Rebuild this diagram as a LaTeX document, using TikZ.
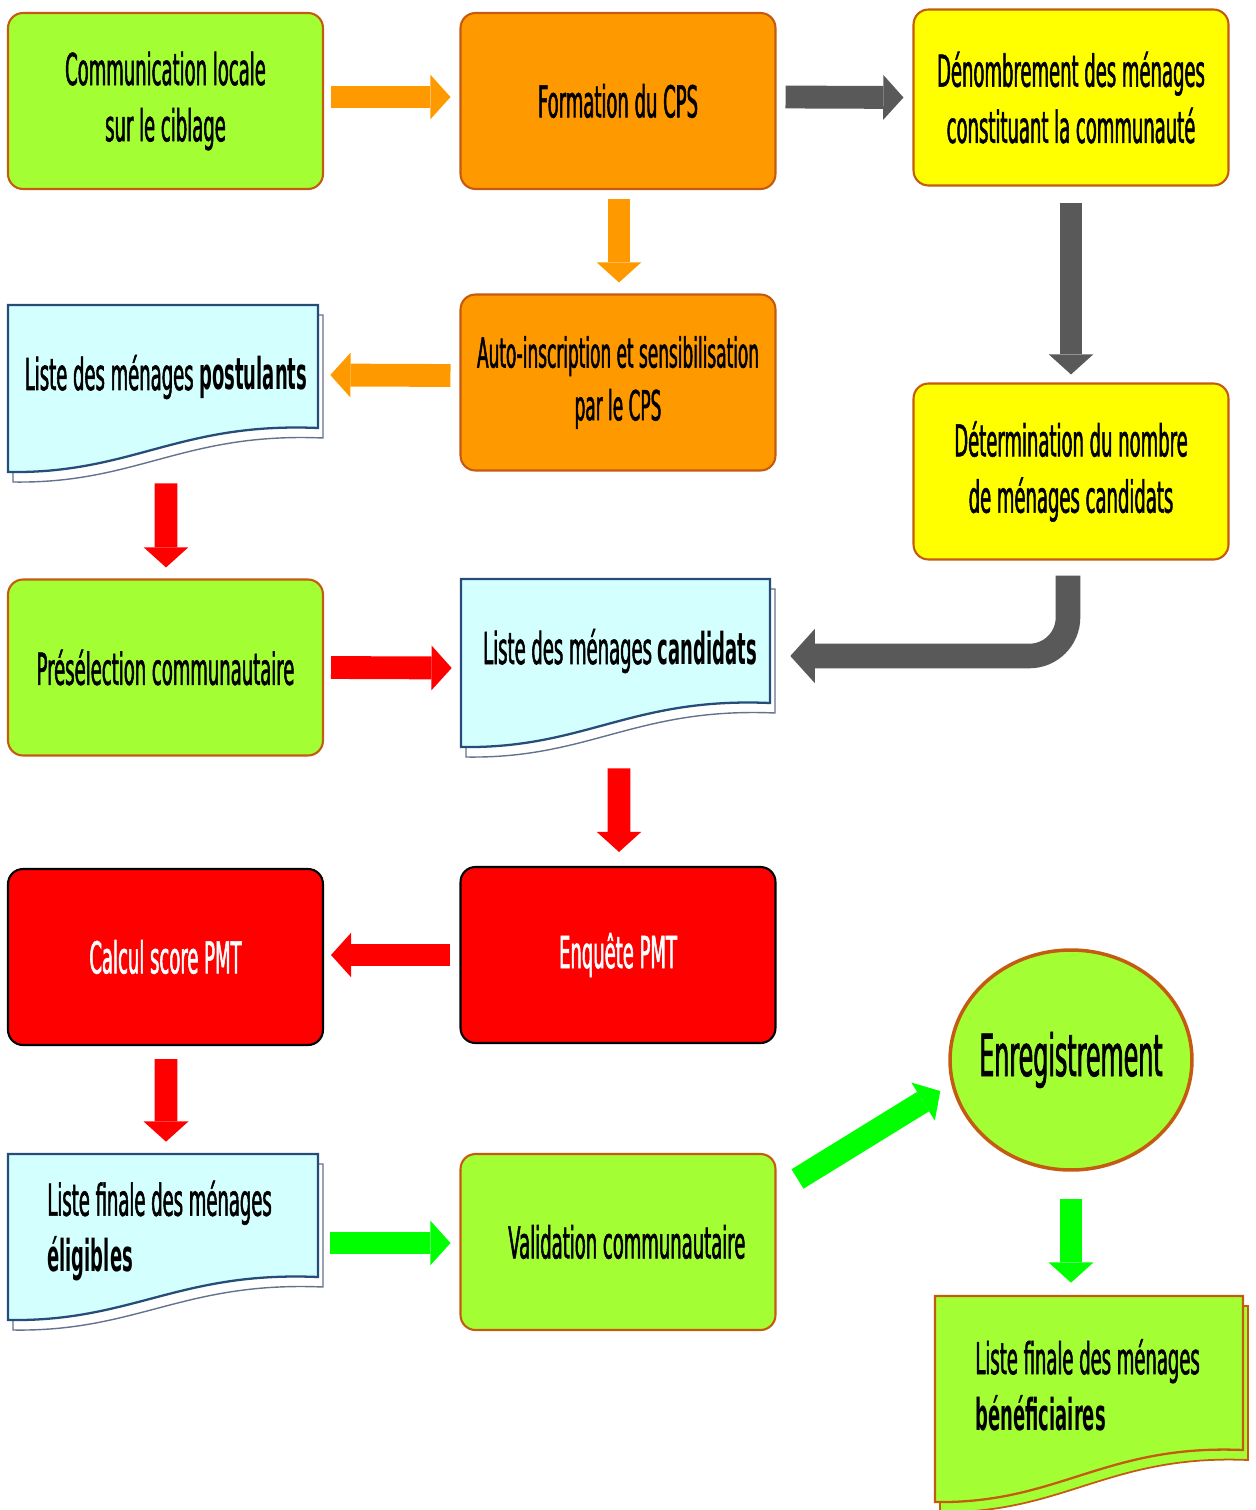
\documentclass[tikz,border=0pt]{standalone}
\usepackage{fontspec}
\setmainfont{DejaVu Sans}[FakeStretch=0.41, UprightFeatures={FakeBold=1.2}]
\usetikzlibrary{arrows.meta,calc,shapes.geometric}

\definecolor{cGreen}{RGB}{163,255,51}
\definecolor{cOrange}{RGB}{255,153,0}
\definecolor{cYellow}{RGB}{255,255,0}
\definecolor{cRed}{RGB}{255,0,0}
\definecolor{cCyan}{RGB}{212,255,255}
\definecolor{cBrown}{RGB}{197,90,17}
\definecolor{cNavy}{RGB}{38,76,120}
\definecolor{cSlate}{RGB}{100,115,140}
\definecolor{cGray}{RGB}{89,89,89}
\definecolor{cLight}{RGB}{0,255,0}

\newcommand\diagfont{\fontsize{25}{32}\selectfont}

% document symbol with a wavy lower edge: x, y, width, height, rise of the wave
\newcommand\docpath[5]{(#1,#2) -- ({#1+#3},#2) -- ({#1+#3},{#2+#4-#5})
  .. controls ({#1+0.55*#3},{#2+#4-#5-6}) and ({#1+0.4*#3},{#2+#4+2}) .. (#1,{#2+#4}) -- cycle}

\tikzset{
  box/.style={rectangle, rounded corners=8.5pt, draw=cBrown, line width=1.2pt,
    minimum width=6.3cm, minimum height=3.52cm, align=center, inner sep=2pt, font=\diagfont},
  greenbox/.style={box, fill=cGreen},
  orangebox/.style={box, fill=cOrange},
  yellowbox/.style={box, fill=cYellow},
  redbox/.style={box, fill=cRed, draw=black, text=white},
  docfront/.style={fill=cCyan, draw=cNavy, line width=1.3pt},
  docback/.style={fill=white, draw=cSlate, line width=0.8pt},
  gdocfront/.style={fill=cGreen, draw=cBrown, line width=1.3pt},
  gdocback/.style={fill=cGreen, draw=cBrown, line width=1pt},
  frame/.style={rectangle, draw=none, inner sep=0pt},
  doctext/.style={inner sep=0pt, font=\diagfont},
  blockarrow/.style={draw=#1, line width=13pt,
    -{Triangle[length=11.5pt 0 0, width=25.5pt 0 0, line width=0pt]}},
  bigarrow/.style={draw=#1, line width=14pt, rounded corners=22pt,
    -{Triangle[length=14pt 0 0, width=31pt 0 0, line width=0pt]}},
}

\begin{document}
\begin{tikzpicture}[x=0.02cm, y=-0.02cm]
\useasboundingbox (0,0) rectangle (1256,1510);

% ---- process boxes
\node[greenbox]  (com)   at (165.5,101)  {Communication locale\\sur le ciblage};
\node[orangebox] (form)  at (618,101)    {Formation du CPS};
\node[yellowbox] (denom) at (1071,97.5)  {Dénombrement des ménages\\constituant la communauté};
\node[orangebox, font=\fontsize{23.5}{30}\selectfont] (auto) at (618,382.5)
  {Auto-inscription et sensibilisation\\par le CPS};
\node[yellowbox] (deter) at (1071,471.5) {Détermination du nombre\\de ménages candidats};
\node[greenbox]  (presel) at (165.5,667.5) {Présélection communautaire};
\node[redbox]    (calc)  at (165.5,957)  {Calcul score PMT};
\node[redbox]    (enq)   at (618,955)    {Enquête PMT};
\node[greenbox]  (valid) at (618,1242)   {\hspace*{10pt}Validation communautaire};
\node[ellipse, draw=cBrown, line width=2pt, fill=cGreen, minimum width=4.84cm,
  minimum height=4.4cm, inner sep=0pt] (enreg) at (1071,1060) {};
\node[font=\fontsize{33}{40}\selectfont, inner sep=0pt] (enregt) at (enreg.center) {Enregistrement};

% ---- document symbols
\draw[docback]  \docpath{13}{315}{310}{167}{44};
\draw[docfront] \docpath{8}{305}{310}{167}{44};
\node[frame, minimum width=6.2cm, minimum height=3.34cm] (postf) at (163,388.5) {};
\node[doctext] (postt) at (166,377) {Liste des ménages \textbf{postulants}};

\draw[docback]  \docpath{466}{589}{309}{168}{44};
\draw[docfront] \docpath{461}{579}{309}{168}{44};
\node[frame, minimum width=6.18cm, minimum height=3.36cm] (candf) at (615.5,663) {};
\node[doctext] (candt) at (620,651) {Liste des ménages \textbf{candidats}};

\draw[docback]  \docpath{13}{1164}{310}{166}{43};
\draw[docfront] \docpath{8}{1154}{310}{166}{43};
\node[frame, minimum width=6.2cm, minimum height=3.32cm] (eligf) at (163,1237) {};
\node[doctext, align=left, anchor=west] (eligt) at (47,1231)
  {Liste finale des ménages\\\textbf{éligibles}};

\draw[gdocback]  \docpath{940}{1306}{308}{206}{52};
\draw[gdocfront] \docpath{935}{1296}{308}{206}{52};
\node[frame, minimum width=6.16cm, minimum height=4.12cm] (benef) at (1089,1399) {};
\node[doctext, align=left, anchor=west] (beneft) at (975,1385)
  {Liste finale des ménages\\\textbf{bénéficiaires}};

% ---- connectors
\draw[blockarrow=cOrange] ($(com.east)+(7,-4)$) -- ($(form.west)+(-9,-4)$);
\draw[blockarrow=cGray]   ($(form.east)+(9,-4)$) -- ($(denom.west)+(-9,0)$);
\draw[blockarrow=cOrange] ($(form.south)+(1,9)$) -- ($(auto.north)+(1,-11)$);
\draw[blockarrow=cGray]   ($(denom.south)+(0,16)$) -- ($(deter.north)+(0,-8)$);
\draw[blockarrow=cOrange] ($(auto.west)+(-9,-7)$) -- ($(postf.east)+(12,-13.5)$);
\draw[blockarrow=cRed]    ($(postf.south)+(3,11)$) -- ($(presel.north)+(0.5,-11)$);
\draw[blockarrow=cRed]    ($(presel.east)+(7,0)$) -- ($(candf.west)+(-9,5)$);
\draw[bigarrow=cGray]     ($(deter.south)+(-3,15)$) |- ($(candf.east)+(20,-7)$);
\draw[blockarrow=cRed]    ($(candf.south)+(3.5,21)$) -- ($(enq.north)+(1,-14)$);
\draw[blockarrow=cRed]    ($(enq.west)+(-9,0)$) -- ($(calc.east)+(7,-2)$);
\draw[blockarrow=cRed]    ($(calc.south)+(0.5,13)$) -- ($(eligf.north)+(3,-12)$);
\draw[blockarrow=cLight]  ($(eligf.east)+(12,6)$) -- ($(valid.west)+(-9,1)$);
\draw[blockarrow=cLight]  ($(valid.north east)+(21,26)$) -- ($(enreg.west)+(-8,31)$);
\draw[blockarrow=cLight]  ($(enreg.south)+(0,27)$) -- ($(benef.north)+(-18,-13)$);
\end{tikzpicture}
\end{document}
